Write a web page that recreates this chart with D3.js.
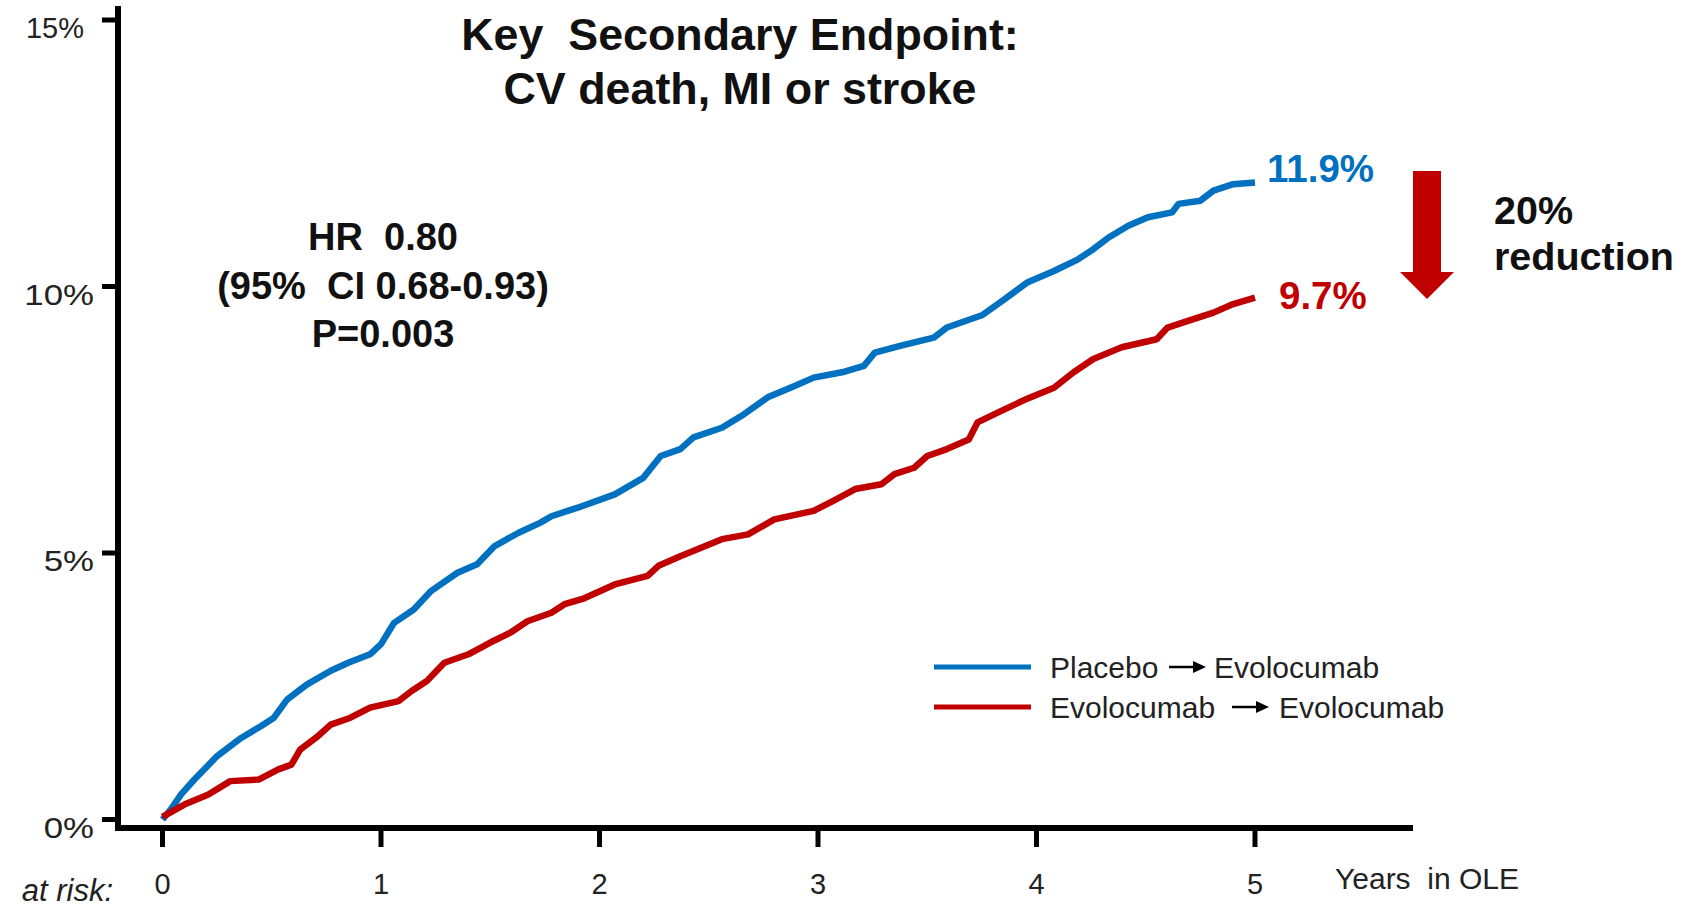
<!DOCTYPE html>
<html>
<head>
<meta charset="utf-8">
<script src="https://cdn.jsdelivr.net/npm/d3@7"></script>
<style>
  html, body { margin: 0; padding: 0; background: #fff; }
  svg { display: block; }
  text { font-family: "Liberation Sans", Arial, sans-serif; white-space: pre; }
</style>
</head>
<body>
<svg id="chart" width="1688" height="909"></svg>
<script>
// ---------------- data ----------------
const seriesNames = ["Placebo", "Evolocumab"];
const seriesColors = ["#0070C0", "#C00000"];

const placeboYears = [0, 0.04, 0.085, 0.146, 0.25, 0.36, 0.45, 0.51, 0.57, 0.66, 0.77, 0.85, 0.95, 1.0, 1.06, 1.15, 1.23, 1.35, 1.44, 1.52, 1.63, 1.73, 1.78, 1.90, 2.07, 2.20, 2.28, 2.37, 2.43, 2.56, 2.66, 2.77, 2.89, 2.98, 3.11, 3.21, 3.26, 3.38, 3.53, 3.59, 3.75, 3.84, 3.96, 4.08, 4.19, 4.26, 4.33, 4.42, 4.51, 4.62, 4.65, 4.75, 4.81, 4.90, 5.0];
const placeboPct   = [0, 0.2, 0.47, 0.75, 1.19, 1.53, 1.75, 1.91, 2.25, 2.53, 2.79, 2.94, 3.10, 3.29, 3.69, 3.94, 4.29, 4.63, 4.79, 5.13, 5.38, 5.57, 5.69, 5.85, 6.10, 6.41, 6.82, 6.95, 7.17, 7.35, 7.60, 7.92, 8.13, 8.29, 8.39, 8.51, 8.76, 8.89, 9.04, 9.23, 9.46, 9.72, 10.08, 10.29, 10.51, 10.70, 10.92, 11.14, 11.30, 11.39, 11.55, 11.61, 11.80, 11.92, 11.95];

const evoYears = [0, 0.1, 0.21, 0.31, 0.44, 0.53, 0.59, 0.63, 0.71, 0.77, 0.86, 0.95, 1.08, 1.14, 1.21, 1.29, 1.40, 1.50, 1.59, 1.67, 1.78, 1.84, 1.93, 2.07, 2.22, 2.27, 2.37, 2.56, 2.68, 2.80, 2.98, 3.07, 3.17, 3.29, 3.35, 3.44, 3.50, 3.59, 3.69, 3.73, 3.82, 3.96, 4.08, 4.17, 4.26, 4.39, 4.55, 4.60, 4.69, 4.81, 4.90, 5.0];
const evoPct   = [0.05, 0.28, 0.47, 0.72, 0.75, 0.94, 1.03, 1.31, 1.56, 1.78, 1.91, 2.10, 2.22, 2.41, 2.60, 2.94, 3.10, 3.32, 3.50, 3.72, 3.88, 4.04, 4.15, 4.41, 4.57, 4.76, 4.94, 5.26, 5.35, 5.63, 5.79, 5.98, 6.20, 6.29, 6.48, 6.60, 6.82, 6.95, 7.13, 7.45, 7.63, 7.90, 8.10, 8.39, 8.64, 8.86, 9.01, 9.23, 9.35, 9.51, 9.67, 9.79];

const xTicks = [0, 1, 2, 3, 4, 5];
const yTicks = [0, 5, 10, 15];
const yTickLabels = ["0%", "5%", "10%", "15%"];
const endLabels = ["11.9%", "9.7%"];
const titleLines = ["Key  Secondary Endpoint:", "CV death, MI or stroke"];
const statLines = ["HR  0.80", "(95%  CI 0.68-0.93)", "P=0.003"];
const reductionLines = ["20%", "reduction"];
const legendLabels = [["Placebo", "Evolocumab"], ["Evolocumab", "Evolocumab"]];
const xAxisTitle = "Years  in OLE";
const atRiskLabel = "at risk:";

// ---------------- layout ----------------
const svg = d3.select("#chart");
const x = d3.scaleLinear().domain([0, 5]).range([162.5, 1255]);
const y = d3.scaleLinear().domain([0, 15]).range([819.5, 20]);
const axisX0 = 118, axisY0 = 828;

// y axis line
svg.append("line").attr("x1", axisX0).attr("x2", axisX0).attr("y1", 6).attr("y2", axisY0 + 3)
  .attr("stroke", "#000").attr("stroke-width", 6);
// x axis line
svg.append("line").attr("x1", axisX0 - 3).attr("x2", 1413).attr("y1", axisY0).attr("y2", axisY0)
  .attr("stroke", "#000").attr("stroke-width", 6);

// y ticks
const yg = svg.append("g");
yg.selectAll("line").data(yTicks).join("line")
  .attr("x1", 102).attr("x2", axisX0).attr("y1", d => y(d)).attr("y2", d => y(d))
  .attr("stroke", "#000").attr("stroke-width", 5);
yg.selectAll("text").data(yTicks).join("text")
  .attr("transform", (d, i) => `translate(${i === 3 ? 84 : 94},${y(d) + 18}) scale(${i === 3 ? 1.0 : 1.2},1)`)
  .attr("text-anchor", "end")
  .attr("font-size", 29)
  .attr("fill", "#222")
  .text((d, i) => yTickLabels[i]);

// x ticks
const xg = svg.append("g");
xg.selectAll("line").data(xTicks).join("line")
  .attr("x1", d => x(d)).attr("x2", d => x(d)).attr("y1", axisY0).attr("y2", 847)
  .attr("stroke", "#000").attr("stroke-width", 5);
xg.selectAll("text").data(xTicks).join("text")
  .attr("x", d => x(d)).attr("y", 894)
  .attr("text-anchor", "middle").attr("font-size", 29).attr("fill", "#222")
  .text(d => d);

svg.append("text").attr("x", 1335).attr("y", 889).attr("font-size", 30).attr("fill", "#222")
  .text(xAxisTitle);
svg.append("text").attr("x", 113).attr("y", 901).attr("text-anchor", "end")
  .attr("font-size", 31).attr("font-style", "italic").attr("fill", "#222")
  .text(atRiskLabel);

// curves
const line = d3.line().x(d => x(d[0])).y(d => y(d[1])).curve(d3.curveLinear);
const series = [
  d3.zip(placeboYears, placeboPct),
  d3.zip(evoYears, evoPct)
];
svg.append("path").datum(series[0]).attr("d", line)
  .attr("fill", "none").attr("stroke", seriesColors[0]).attr("stroke-width", 6.5)
  .attr("stroke-linejoin", "round");
svg.append("path").datum(series[1]).attr("d", line)
  .attr("fill", "none").attr("stroke", seriesColors[1]).attr("stroke-width", 6.5)
  .attr("stroke-linejoin", "round");

// end labels
svg.append("text").attr("x", 1267).attr("y", 182).attr("font-size", 38.5).attr("font-weight", "bold")
  .attr("fill", seriesColors[0]).text(endLabels[0]);
svg.append("text").attr("x", 1279).attr("y", 309).attr("font-size", 38.5).attr("font-weight", "bold")
  .attr("fill", seriesColors[1]).text(endLabels[1]);

// reduction arrow
svg.append("path")
  .attr("d", "M1413,171 L1441,171 L1441,272 L1454,272 L1427,299 L1400,272 L1413,272 Z")
  .attr("fill", "#C00000");
svg.selectAll("text.red").data(reductionLines).join("text").attr("class", "red")
  .attr("x", 1494).attr("y", (d, i) => 224 + i * 46)
  .attr("font-size", 39.5).attr("font-weight", "bold").attr("fill", "#111")
  .text(d => d);

// title
svg.selectAll("text.title").data(titleLines).join("text").attr("class", "title")
  .attr("x", 740).attr("y", (d, i) => 50 + i * 54)
  .attr("text-anchor", "middle").attr("font-size", 44.8).attr("font-weight", "bold").attr("fill", "#111")
  .text(d => d);

// stats
svg.selectAll("text.stat").data(statLines).join("text").attr("class", "stat")
  .attr("x", 383).attr("y", (d, i) => 250 + i * 48.5)
  .attr("text-anchor", "middle").attr("font-size", 38).attr("font-weight", "bold").attr("fill", "#111")
  .text(d => d);

// legend
const lg = svg.append("g");
const legendY = [667, 707];
const legendArrowX = [1169, 1232];
const legendSecondX = [1214, 1279];
legendLabels.forEach((pair, i) => {
  lg.append("line").attr("x1", 934).attr("x2", 1031).attr("y1", legendY[i]).attr("y2", legendY[i])
    .attr("stroke", seriesColors[i]).attr("stroke-width", 5);
  lg.append("text").attr("x", 1050).attr("y", legendY[i] + 11).attr("font-size", 30).attr("fill", "#222")
    .text(pair[0]);
  const ax = legendArrowX[i], ay = legendY[i];
  lg.append("line").attr("x1", ax).attr("x2", ax + 26).attr("y1", ay).attr("y2", ay)
    .attr("stroke", "#000").attr("stroke-width", 2.5);
  lg.append("path").attr("d", `M${ax + 24},${ay - 6} L${ax + 37},${ay} L${ax + 24},${ay + 6} Z`).attr("fill", "#000");
  lg.append("text").attr("x", legendSecondX[i]).attr("y", legendY[i] + 11).attr("font-size", 30).attr("fill", "#222")
    .text(pair[1]);
});
</script>
</body>
</html>
